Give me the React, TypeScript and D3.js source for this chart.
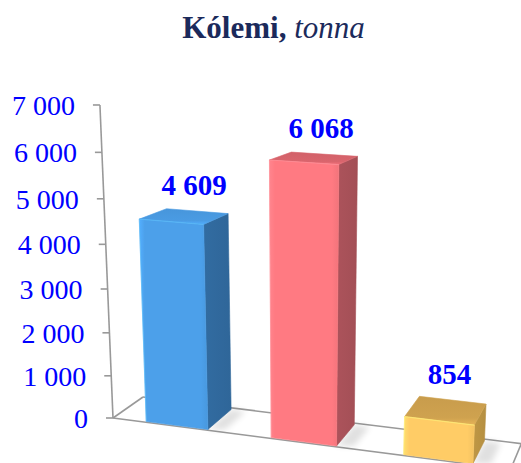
import React from 'react';
import * as d3 from 'd3';

// ---- data ----
const categories = ['1', '2', '3'];
const values = [4609, 6068, 854];
const tickValues = [0, 1000, 2000, 3000, 4000, 5000, 6000, 7000];
const titleBold = 'Kólemi,';
const titleItalic = 'tonna';

// ---- styles ----
const frontColors = ['#4CA0EA', '#FF7A82', '#FFCC66'];
const sideColors = ['#2F6699', '#A34F56', '#B58F41'];
const topColors = ['#4A9BE3', '#D9656D', '#CFA24F'];

const W = 521;
const H = 463;
const FONT = "'Liberation Serif', 'Times New Roman', serif";

// projective camera: world (t across, hh height fraction, z depth) -> screen
const cam = {
  a: 354.3, b: 37.6, c: 113,
  d: 11.5, e: 0.12, f: 418,
  g: -0.0848, h: 0.0532,
  s: -0.06528, vx: 300, vy: 4900,
};
function proj(t: number, hh: number, z: number): [number, number] {
  const k = hh * cam.s;
  const w = 1 + cam.g * t + cam.h * z + k;
  const X = cam.c + cam.a * t + cam.b * z + k * cam.vx;
  const Y = cam.f + cam.d * t + cam.e * z + k * cam.vy;
  return [X / w, Y / w];
}
const pts = (arr: [number, number][]) => arr.map((p) => p.join(',')).join(' ');

const fmt = d3.formatLocale({ decimal: ',', thousands: '\u00a0', grouping: [3], currency: ['', ''] }).format(',');

export default function App() {
  const xBand = d3.scaleBand<string>().domain(categories).range([0, 1]).paddingInner(0.5).paddingOuter(0.268);
  const yScale = d3.scaleLinear().domain([0, 7000]).range([0, 1]);
  const z0 = 0.03;
  const z1 = 0.93;

  const FL = proj(0, 0, 0), FR = proj(1, 0, 0), BL = proj(0, 0, 1), BR = proj(1, 0, 1);
  const axisTop = proj(0, yScale(7000), 0);
  const lineColor = '#999999';

  return (
    <svg width={W} height={H} style={{ position: 'absolute', left: 0, top: 0, background: '#fff' }}
      xmlns="http://www.w3.org/2000/svg">
      <defs>
        <filter id="shadowBlur" x="-50%" y="-50%" width="200%" height="200%">
          <feGaussianBlur stdDeviation="3" />
        </filter>
        {categories.map((c, i) => (
          <React.Fragment key={c}>
            <linearGradient id={`front${i}`} x1="0" x2="1" y1="0" y2="0">
              <stop offset="0" stopColor={d3.color(frontColors[i])!.brighter(0.25).toString()} />
              <stop offset="0.08" stopColor={frontColors[i]} />
              <stop offset="0.9" stopColor={frontColors[i]} />
              <stop offset="1" stopColor={d3.color(frontColors[i])!.darker(0.15).toString()} />
            </linearGradient>
            <linearGradient id={`top${i}`} x1="0" x2="0" y1="1" y2="0">
              <stop offset="0" stopColor={d3.color(topColors[i])!.brighter(0.3).toString()} />
              <stop offset="0.25" stopColor={topColors[i]} />
              <stop offset="1" stopColor={d3.color(topColors[i])!.darker(0.1).toString()} />
            </linearGradient>
            <linearGradient id={`side${i}`} x1="0" x2="1" y1="0" y2="0">
              <stop offset="0" stopColor={d3.color(sideColors[i])!.brighter(0.15).toString()} />
              <stop offset="1" stopColor={sideColors[i]} />
            </linearGradient>
          </React.Fragment>
        ))}
      </defs>

      {/* title */}
      <text x={273.5} y={38} textAnchor="middle" fontFamily={FONT} fontSize={31} fill="#1B2A5B">
        <tspan fontWeight="bold">{titleBold}</tspan>
        <tspan fontStyle="italic"> {titleItalic}</tspan>
      </text>

      {/* floor */}
      <g stroke={lineColor} strokeWidth={1.6} fill="none">
        <line x1={FL[0]} y1={FL[1]} x2={FR[0]} y2={FR[1]} />
        <line x1={BL[0]} y1={BL[1]} x2={BR[0]} y2={BR[1]} />
        <line x1={FL[0]} y1={FL[1]} x2={BL[0]} y2={BL[1]} />
        <line x1={BR[0]} y1={BR[1]} x2={FR[0]} y2={FR[1]} />
      </g>

      {/* value axis */}
      <line x1={FL[0]} y1={FL[1]} x2={axisTop[0]} y2={axisTop[1]} stroke={lineColor} strokeWidth={1.6} />
      {tickValues.map((v) => {
        const p = proj(0, yScale(v), 0);
        return (
          <g key={v}>
            <line x1={p[0] - 7} y1={p[1]} x2={p[0]} y2={p[1]} stroke={lineColor} strokeWidth={1.6} />
            <text x={p[0] - 25} y={p[1] + 10} textAnchor="end" fontFamily={FONT} fontSize={28} fill="#0000FF">
              {fmt(v)}
            </text>
          </g>
        );
      })}

      {/* bars */}
      {categories.map((c, i) => {
        const t0 = xBand(c)!;
        const t1 = t0 + xBand.bandwidth();
        const hh = yScale(values[i]);
        const f0 = proj(t0, 0, z0), f1 = proj(t1, 0, z0), f2 = proj(t1, hh, z0), f3 = proj(t0, hh, z0);
        const b1 = proj(t1, 0, z1), b2 = proj(t1, hh, z1), b3 = proj(t0, hh, z1);
        const sh = [proj(t1, 0, z0), proj(t1 + 0.04, 0, z0 + 0.08), proj(t1 + 0.04, 0, z1), proj(t1, 0, z1)] as [number, number][];
        const hl = d3.color(frontColors[i])!.brighter(0.6).toString();
        return (
          <g key={c}>
            <polygon points={pts(sh)} fill="#000" opacity={0.12} filter="url(#shadowBlur)" />
            <polygon points={pts([f1, b1, b2, f2])} fill={`url(#side${i})`} stroke={sideColors[i]} strokeWidth={0.6} strokeLinejoin="round" />
            <polygon points={pts([f3, f2, b2, b3])} fill={`url(#top${i})`} stroke={topColors[i]} strokeWidth={0.6} strokeLinejoin="round" />
            <polygon points={pts([f0, f1, f2, f3])} fill={`url(#front${i})`} stroke={frontColors[i]} strokeWidth={0.6} strokeLinejoin="round" />
            <polyline points={pts([f0, f3, f2])} fill="none" stroke={hl} strokeWidth={1.2} opacity={0.5} strokeLinejoin="round" />
          </g>
        );
      })}

      {/* data labels */}
      {categories.map((c, i) => {
        const tc = xBand(c)! + xBand.bandwidth() / 2;
        const p = proj(tc, yScale(values[i]), z1);
        return (
          <text key={c} x={p[0] - 3} y={p[1] - 16} textAnchor="middle" fontFamily={FONT} fontWeight="bold"
            fontSize={29} fill="#0000FF">
            {fmt(values[i])}
          </text>
        );
      })}
    </svg>
  );
}
